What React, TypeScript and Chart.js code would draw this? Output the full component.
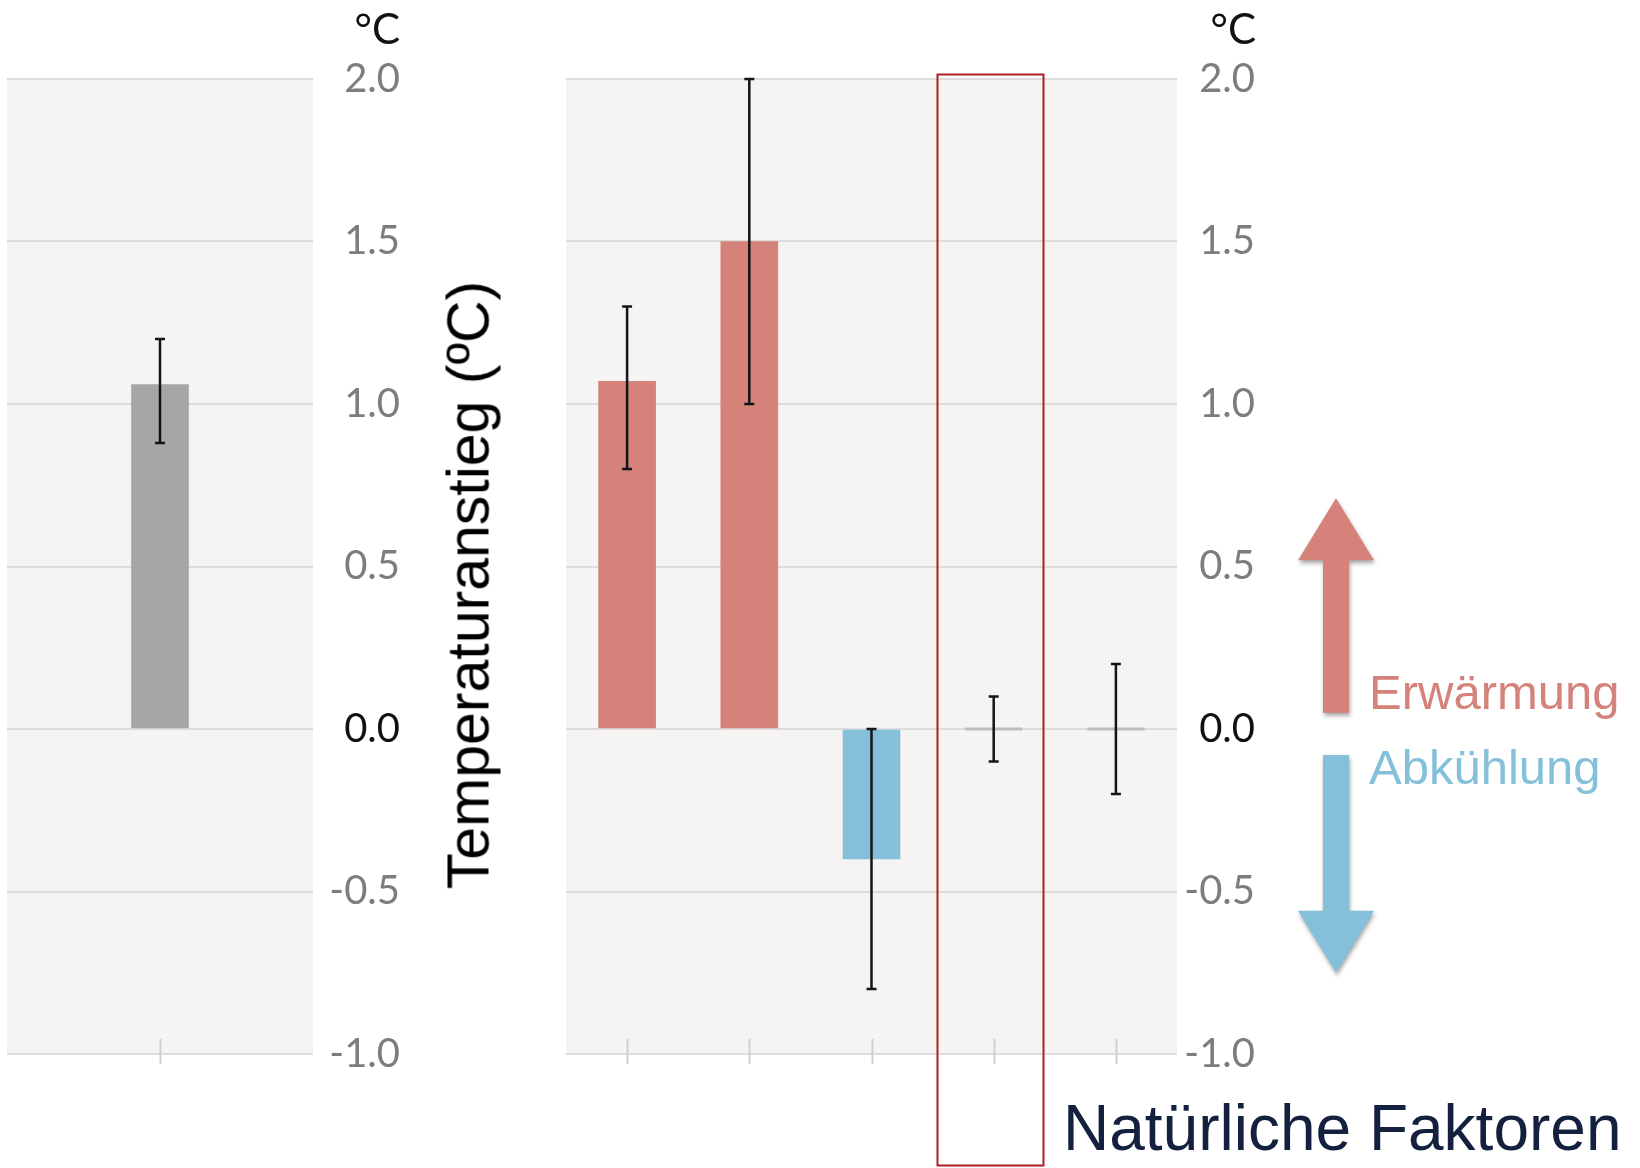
import React, { useEffect, useRef } from "react";
import { Chart, registerables } from "chart.js";

Chart.register(...registerables);

// ---------- data ----------
const leftCategories = ["1"];
const leftValues = [1.06];
const leftErrLow = [0.88];
const leftErrHigh = [1.2];

const middleCategories = ["1", "2", "3", "4", "5"];
const middleValues = [1.07, 1.5, -0.4, 0, 0];
const middleErrLow = [0.8, 1.0, -0.8, -0.1, -0.2];
const middleErrHigh = [1.3, 2.0, 0.0, 0.1, 0.2];
const middleColors = ["#d4827a", "#d4827a", "#84c0d9", "#bdbdbd", "#bdbdbd"];

const yTickValues = [-1.0, -0.5, 0.0, 0.5, 1.0, 1.5, 2.0];
const highlightIndex = 3;

const unitLabel = "°C";
const yTitle = "Temperaturanstieg (ºC)";
const warmLabel = "Erwärmung";
const coolLabel = "Abkühlung";
const naturalLabel = "Natürliche Faktoren";

// arrow extents in axis units
const warmArrow = [0.05, 0.71];
const coolArrow = [-0.08, -0.75];

// ---------- plugins ----------
const bgPlugin = {
  id: "bg",
  beforeDraw(chart: any) {
    const { ctx, chartArea } = chart;
    ctx.save();
    ctx.fillStyle = "#f5f4f2";
    ctx.fillRect(chartArea.left, chartArea.top, chartArea.right - chartArea.left, chartArea.bottom - chartArea.top);
    ctx.restore();
  },
};

const tickMarkPlugin = {
  id: "tickMarks",
  beforeDatasetsDraw(chart: any) {
    const { ctx, chartArea } = chart;
    const xs = chart.scales.x;
    ctx.save();
    ctx.strokeStyle = "#d0d0d0";
    ctx.lineWidth = 2;
    for (let i = 0; i < chart.data.labels.length; i++) {
      const x = Math.round(xs.getPixelForValue(i)) + 0.5;
      ctx.beginPath();
      ctx.moveTo(x, chartArea.bottom - 15);
      ctx.lineTo(x, chartArea.bottom + 10);
      ctx.stroke();
    }
    ctx.restore();
  },
};

function makeErrorPlugin(lows: number[], highs: number[]) {
  return {
    id: "errorBars",
    afterDatasetsDraw(chart: any) {
      const { ctx } = chart;
      const ys = chart.scales.y;
      const meta = chart.getDatasetMeta(0);
      ctx.save();
      // zero-value markers
      meta.data.forEach((el: any, i: number) => {
        const v = chart.data.datasets[0].data[i];
        if (v === 0) {
          const c = chart.data.datasets[0].backgroundColor;
          ctx.strokeStyle = Array.isArray(c) ? c[i] : c;
          ctx.lineWidth = 3;
          ctx.beginPath();
          ctx.moveTo(el.x - el.width / 2, el.y);
          ctx.lineTo(el.x + el.width / 2, el.y);
          ctx.stroke();
        }
      });
      ctx.strokeStyle = "#141414";
      ctx.lineWidth = 2.5;
      const cap = 5;
      meta.data.forEach((el: any, i: number) => {
        const x = el.x;
        const y1 = ys.getPixelForValue(lows[i]);
        const y2 = ys.getPixelForValue(highs[i]);
        ctx.beginPath();
        ctx.moveTo(x, y1);
        ctx.lineTo(x, y2);
        ctx.moveTo(x - cap, y1);
        ctx.lineTo(x + cap, y1);
        ctx.moveTo(x - cap, y2);
        ctx.lineTo(x + cap, y2);
        ctx.stroke();
      });
      ctx.restore();
    },
  };
}

const decorPlugin = {
  id: "decor",
  afterDraw(chart: any) {
    const { ctx, chartArea } = chart;
    const xs = chart.scales.x;
    const ys = chart.scales.y;
    ctx.save();
    // highlight box
    const xc = xs.getPixelForValue(highlightIndex);
    ctx.strokeStyle = "#b01e1e";
    ctx.lineWidth = 2;
    ctx.strokeRect(Math.round(xc - 57) + 0.5, chartArea.top - 4.5, 106, chart.height - chartArea.top + 2);

    // arrows
    const ax = chartArea.right + 159;
    const shaftHalf = 13;
    const headHalf = 38;
    const headLen = 62;
    const drawArrow = (from: number, to: number, color: string) => {
      const yFrom = ys.getPixelForValue(from);
      const yTip = ys.getPixelForValue(to);
      const dir = yTip < yFrom ? -1 : 1;
      const yBase = yTip - dir * headLen;
      ctx.save();
      ctx.shadowColor = "rgba(0,0,0,0.35)";
      ctx.shadowBlur = 4;
      ctx.shadowOffsetX = 1;
      ctx.shadowOffsetY = 3;
      ctx.fillStyle = color;
      ctx.beginPath();
      ctx.moveTo(ax - shaftHalf, yFrom);
      ctx.lineTo(ax - shaftHalf, yBase);
      ctx.lineTo(ax - headHalf, yBase);
      ctx.lineTo(ax, yTip);
      ctx.lineTo(ax + headHalf, yBase);
      ctx.lineTo(ax + shaftHalf, yBase);
      ctx.lineTo(ax + shaftHalf, yFrom);
      ctx.closePath();
      ctx.fill();
      ctx.restore();
    };
    drawArrow(warmArrow[0], warmArrow[1], "#d4827a");
    drawArrow(coolArrow[0], coolArrow[1], "#84c0d9");
    ctx.restore();
  },
};

function yScaleOptions(axisWidth: number) {
  return {
    position: "right",
    min: -1,
    max: 2,
    afterBuildTicks: (s: any) => {
      s.ticks = yTickValues.map((v) => ({ value: v }));
    },
    afterFit: (s: any) => {
      s.width = axisWidth;
    },
    grid: { color: "#dcdcdc", lineWidth: 2, drawTicks: false },
    border: { display: false },
    ticks: {
      padding: 8,
      crossAlign: "far",
      font: { family: "Lato", size: 40 },
      color: (c: any) => (c.tick && c.tick.value === 0 ? "#111111" : "#7d7d7d"),
      callback: (v: any) => Number(v).toFixed(1),
    },
  };
}

const xScaleOptions = {
  display: true,
  grid: { display: false },
  border: { display: false },
  ticks: { display: false },
  afterFit: (s: any) => {
    s.height = 0;
  },
};

function ChartCanvas({ config, width, height, left }: any) {
  const ref = useRef<HTMLCanvasElement | null>(null);
  useEffect(() => {
    if (!ref.current) return;
    const chart = new Chart(ref.current, config());
    return () => chart.destroy();
  }, []);
  return (
    <canvas
      ref={ref}
      width={width}
      height={height}
      style={{ position: "absolute", left, top: 0, width, height }}
    />
  );
}

const leftConfig = () => ({
  type: "bar",
  data: {
    labels: leftCategories,
    datasets: [{ data: leftValues, backgroundColor: "#a6a6a6", barThickness: 57 }],
  },
  options: {
    responsive: false,
    animation: false,
    devicePixelRatio: 1,
    layout: { padding: { left: 7, right: 140, top: 79, bottom: 114 } },
    plugins: { legend: { display: false }, tooltip: { enabled: false } },
    scales: { x: xScaleOptions, y: yScaleOptions(87) },
  },
  plugins: [bgPlugin, tickMarkPlugin, makeErrorPlugin(leftErrLow, leftErrHigh)],
});

const middleConfig = () => ({
  type: "bar",
  data: {
    labels: middleCategories,
    datasets: [{ data: middleValues, backgroundColor: middleColors, barThickness: 57 }],
  },
  options: {
    responsive: false,
    animation: false,
    devicePixelRatio: 1,
    layout: { padding: { left: 26, right: 385, top: 79, bottom: 114 } },
    plugins: { legend: { display: false }, tooltip: { enabled: false } },
    scales: { x: xScaleOptions, y: yScaleOptions(78) },
  },
  plugins: [bgPlugin, tickMarkPlugin, makeErrorPlugin(middleErrLow, middleErrHigh), decorPlugin],
});

const abs = (s: any) => ({ position: "absolute", whiteSpace: "nowrap", margin: 0, ...s });

export default function App() {
  return (
    <div style={{ position: "absolute", left: 0, top: 0, width: 1640, height: 1168, background: "#ffffff", overflow: "hidden" }}>
      <ChartCanvas config={leftConfig} width={540} height={1168} left={0} />
      <ChartCanvas config={middleConfig} width={1100} height={1168} left={540} />
      <div style={abs({ left: 300, top: 7, width: 100, textAlign: "right", font: "42px Lato", lineHeight: "42px", color: "#111" })}>{unitLabel}</div>
      <div style={abs({ left: 1156, top: 7, width: 100, textAlign: "right", font: "42px Lato", lineHeight: "42px", color: "#111" })}>{unitLabel}</div>
      <div
        style={abs({
          left: 469,
          top: 585,
          font: "59px 'Liberation Sans', Arial, sans-serif",
          lineHeight: "59px",
          color: "#000",
          transform: "translate(-50%, -50%) rotate(-90deg)",
        })}
      >
        {yTitle}
      </div>
      <div style={abs({ left: 1369, top: 709 - 41.5, font: "49px 'Liberation Sans', Arial, sans-serif", lineHeight: "49px", color: "#d4827a" })}>{warmLabel}</div>
      <div style={abs({ left: 1369, top: 784 - 41.5, font: "49px 'Liberation Sans', Arial, sans-serif", lineHeight: "49px", color: "#84c0d9" })}>{coolLabel}</div>
      <div style={abs({ left: 1063, top: 1150 - 54.5, font: "64px 'Liberation Sans', Arial, sans-serif", lineHeight: "64px", color: "#13213f" })}>{naturalLabel}</div>
    </div>
  );
}
